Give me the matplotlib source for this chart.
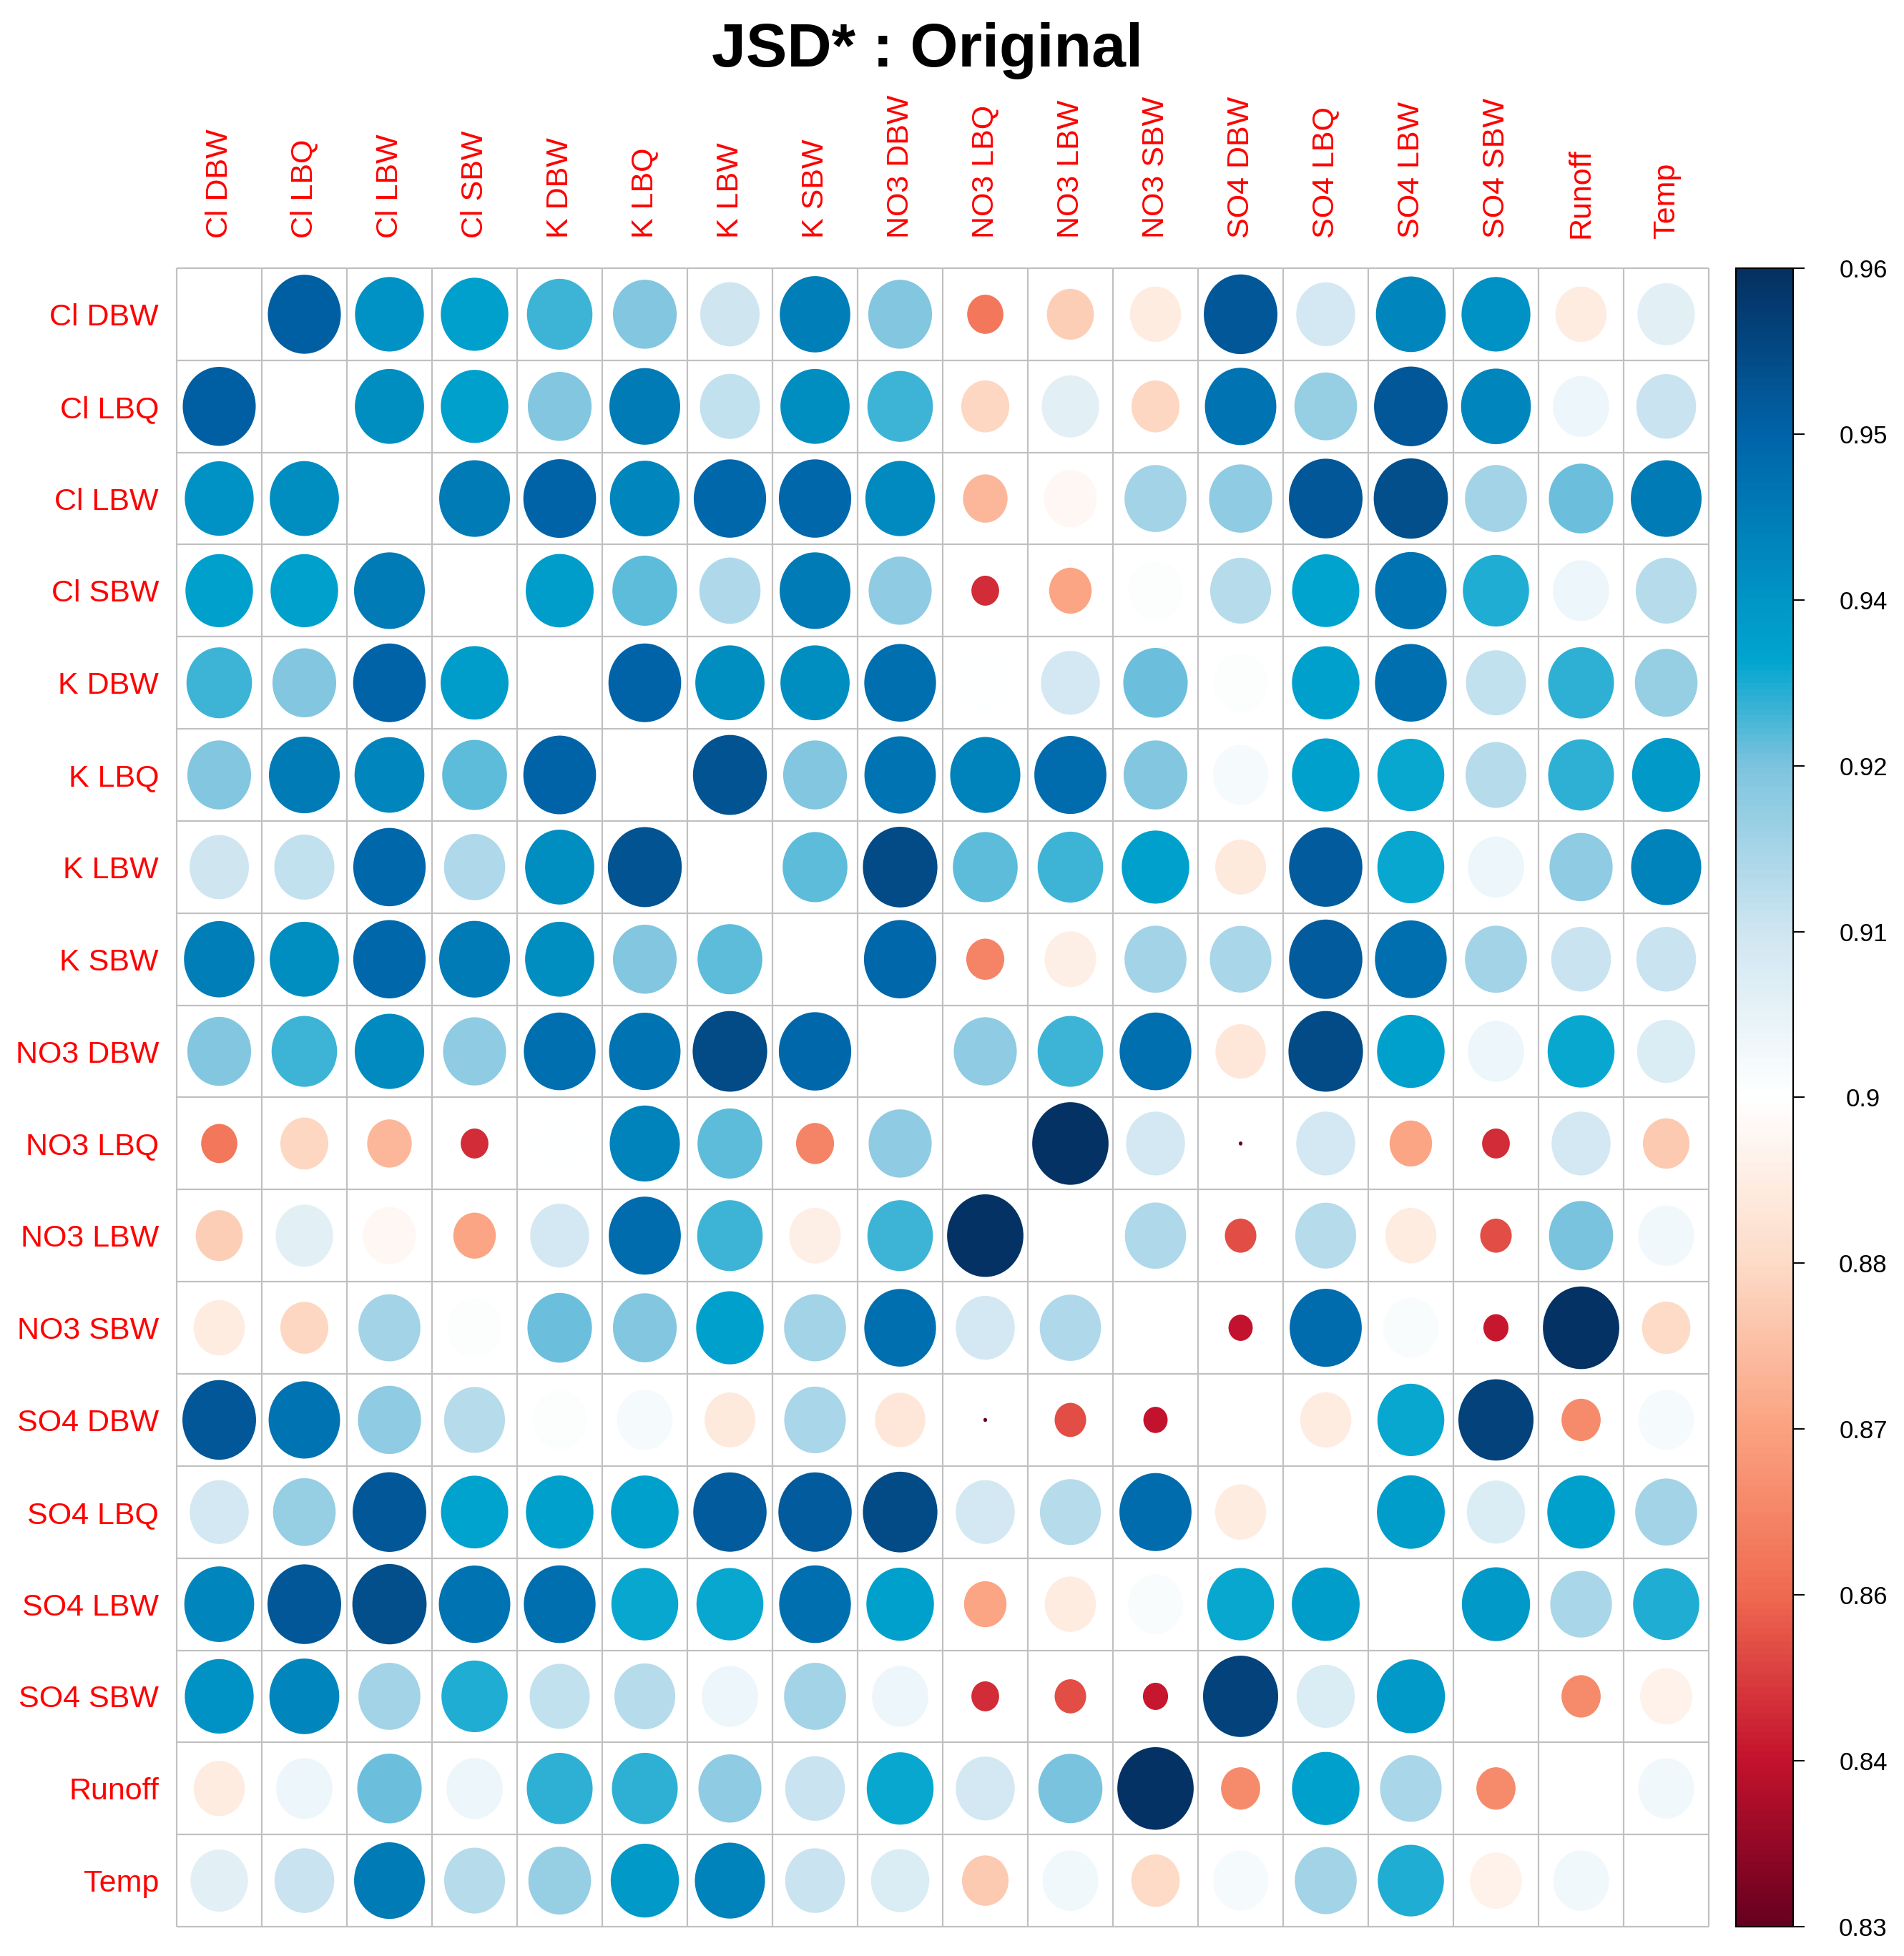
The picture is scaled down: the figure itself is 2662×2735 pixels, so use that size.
import numpy as np
import matplotlib
matplotlib.use("Agg")
import matplotlib.pyplot as plt
from matplotlib.colors import LinearSegmentedColormap, Normalize
from matplotlib.cm import ScalarMappable
from matplotlib.patches import Ellipse

plt.rcParams["font.family"] = ["Liberation Sans", "DejaVu Sans"]

nan = np.nan

labels = ["Cl DBW", "Cl LBQ", "Cl LBW", "Cl SBW", "K DBW", "K LBQ", "K LBW", "K SBW",
          "NO3 DBW", "NO3 LBQ", "NO3 LBW", "NO3 SBW", "SO4 DBW", "SO4 LBQ", "SO4 LBW",
          "SO4 SBW", "Runoff", "Temp"]

# one row per variable, diagonal left empty
cl_dbw = [nan, .948, .935, .931, .925, .920, .908, .940, .920, .859, .879, .888, .950, .907, .938, .935, .888, .903]
cl_lbq = [.948, nan, .936, .931, .920, .941, .910, .936, .925, .881, .903, .881, .943, .917, .950, .938, .900, .909]
cl_lbw = [.935, .936, nan, .941, .947, .938, .946, .946, .937, .874, .892, .915, .918, .950, .952, .915, .922, .941]
cl_sbw = [.931, .931, .941, nan, .932, .923, .913, .941, .918, .847, .870, .896, .912, .930, .943, .927, .900, .912]
k_dbw = [.925, .920, .947, .932, nan, .947, .936, .936, .944, .895, .907, .922, .896, .931, .944, .910, .926, .917]
k_lbq = [.920, .941, .938, .923, .947, nan, .951, .920, .943, .939, .945, .920, .898, .931, .929, .912, .926, .933]
k_lbw = [.908, .910, .946, .913, .936, .951, nan, .923, .953, .923, .925, .931, .887, .949, .929, .900, .918, .939]
k_sbw = [.940, .936, .946, .941, .936, .920, .923, nan, .946, .862, .889, .915, .914, .949, .944, .915, .909, .909]
no3_dbw = [.920, .925, .937, .918, .944, .943, .953, .946, nan, .918, .925, .944, .886, .953, .931, .900, .929, .905]
no3_lbq = [.859, .881, .874, .847, .895, .939, .923, .862, .918, nan, .959, .907, .8303, .907, .870, .847, .907, .878]
no3_lbw = [.879, .903, .892, .870, .907, .945, .925, .889, .925, .959, nan, .913, .852, .912, .888, .852, .921, .899]
no3_sbw = [.888, .881, .915, .896, .922, .920, .931, .915, .944, .907, .913, nan, .843, .945, .897, .844, .959, .882]
so4_dbw = [.950, .943, .918, .912, .896, .898, .887, .914, .886, .8303, .852, .843, nan, .888, .929, .955, .864, .898]
so4_lbq = [.907, .917, .950, .930, .931, .931, .949, .949, .953, .907, .912, .945, .888, nan, .932, .905, .931, .915]
so4_lbw = [.938, .950, .952, .943, .944, .929, .929, .944, .931, .870, .888, .897, .929, .932, nan, .933, .914, .927]
so4_sbw = [.935, .938, .915, .927, .910, .912, .900, .915, .900, .847, .852, .844, .955, .905, .933, nan, .864, .890]
runoff = [.888, .900, .922, .900, .926, .926, .918, .909, .929, .907, .921, .959, .864, .931, .914, .864, nan, .899]
temp = [.903, .909, .941, .912, .917, .933, .939, .909, .905, .878, .899, .882, .898, .915, .927, .890, .899, nan]

cbar_labels = ["0.83", "0.84", "0.86", "0.87", "0.88", "0.9", "0.91", "0.92", "0.94", "0.95", "0.96"]

vmin, vmax = 0.83, 0.96


def main():
    mat = np.array([cl_dbw, cl_lbq, cl_lbw, cl_sbw, k_dbw, k_lbq, k_lbw, k_sbw,
                    no3_dbw, no3_lbq, no3_lbw, no3_sbw, so4_dbw, so4_lbq, so4_lbw,
                    so4_sbw, runoff, temp])
    n = len(labels)

    cmap = LinearSegmentedColormap.from_list("jsd", [
        (0.0, "#67001F"), (0.1, "#C4122D"), (0.2, "#F06A50"), (0.3, "#FBA280"),
        (0.4, "#FDDBC7"), (0.5, "#FFFFFF"), (0.6, "#CFE6F1"), (0.7, "#7EC4DE"),
        (0.765, "#00A5CF"), (0.8, "#0096C6"), (0.9, "#0064A9"), (1.0, "#053061")])
    norm = Normalize(vmin, vmax)

    fig = plt.figure(figsize=(26.62, 27.35), dpi=100)
    ax = fig.add_axes([0.09279, 0.01499, 0.80466, 0.84790])

    for i in range(n):
        for j in range(n):
            v = mat[i, j]
            if np.isnan(v):
                continue
            d = 0.9 * np.sqrt((v - vmin) / (vmax - vmin))
            ax.add_patch(Ellipse((j + 0.5, i + 0.5), d, d,
                                 facecolor=cmap(norm(v)), edgecolor="none"))

    ax.set_xlim(0, n)
    ax.set_ylim(n, 0)
    ax.vlines(np.arange(n + 1), 0, n, colors="#C0C0C0", lw=1.6, clip_on=False)
    ax.hlines(np.arange(n + 1), 0, n, colors="#C0C0C0", lw=1.6, clip_on=False)
    for s in ax.spines.values():
        s.set_visible(False)

    ax.xaxis.tick_top()
    ax.set_xticks(np.arange(n) + 0.5)
    ax.set_xticklabels(labels, rotation=90, color="red", fontsize=31)
    ax.set_yticks(np.arange(n) + 0.5)
    ax.set_yticklabels(labels, color="red", fontsize=31)
    ax.tick_params(axis="x", length=0, pad=30)
    ax.tick_params(axis="y", length=0, pad=18)

    cax = fig.add_axes([0.91172, 0.01499, 0.03005, 0.84790])
    cb = fig.colorbar(ScalarMappable(norm=norm, cmap=cmap), cax=cax)
    cb.set_ticks(np.linspace(vmin, vmax, len(cbar_labels)))
    cb.set_ticklabels(cbar_labels)
    cb.outline.set_linewidth(1.5)
    cax.tick_params(length=11.5, width=1.4, pad=59, labelsize=25)
    for t in cax.get_yticklabels():
        t.set_ha("center")

    fig.text(0.4869, 0.966, "JSD* : Original", ha="center", va="baseline",
             fontsize=62, fontweight="bold")

    fig.savefig("out.png", dpi=100)


if __name__ == "__main__":
    main()
